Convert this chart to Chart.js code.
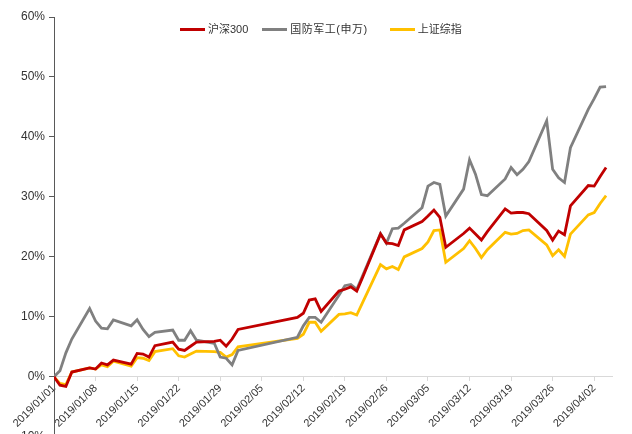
<!DOCTYPE html>
<html>
<head>
<meta charset="utf-8">
<script src="https://cdn.jsdelivr.net/npm/chart.js@4.4.1/dist/chart.umd.min.js"></script>
<style>
  html, body { margin: 0; padding: 0; background: #fff; overflow: hidden; }
  #wrap { position: relative; width: 632px; height: 448px; }
  #legend { position: absolute; top: 20px; left: 180px; font: 11px "Liberation Sans", Arial, "Noto Sans CJK SC", sans-serif; color: #333; white-space: nowrap; }
  #legend span.item { display: inline-block; margin-right: 14px; }
  #legend span.item:nth-child(2) { margin-right: 22px; letter-spacing: 0.5px; }
  #legend span.sw { display: inline-block; width: 25px; height: 3px; vertical-align: middle; margin-right: 3px; position: relative; top: -1px; }
</style>
</head>
<body>
<div id="wrap">
  <canvas id="myChart"></canvas>
  <div id="legend"></div>
</div>
<script>
// trading days (2019/01/01 is the base point)
var dates = ['2019/01/01','2019/01/02','2019/01/03','2019/01/04','2019/01/07','2019/01/08','2019/01/09','2019/01/10','2019/01/11',
  '2019/01/14','2019/01/15','2019/01/16','2019/01/17','2019/01/18','2019/01/21','2019/01/22','2019/01/23','2019/01/24','2019/01/25',
  '2019/01/28','2019/01/29','2019/01/30','2019/01/31','2019/02/01','2019/02/11','2019/02/12','2019/02/13','2019/02/14','2019/02/15',
  '2019/02/18','2019/02/19','2019/02/20','2019/02/21','2019/02/22','2019/02/25','2019/02/26','2019/02/27','2019/02/28','2019/03/01',
  '2019/03/04','2019/03/05','2019/03/06','2019/03/07','2019/03/08','2019/03/11','2019/03/12','2019/03/13','2019/03/14','2019/03/15',
  '2019/03/18','2019/03/19','2019/03/20','2019/03/21','2019/03/22','2019/03/25','2019/03/26','2019/03/27','2019/03/28','2019/03/29',
  '2019/04/01','2019/04/02','2019/04/03','2019/04/04'];

// cumulative return, %
var hs300 = [0,-1.4,-1.6,0.8,1.5,1.3,2.3,2.0,2.8,
  2.1,3.9,3.8,3.3,5.2,5.8,4.6,4.4,5.1,5.8,
  5.9,6.1,5.1,6.3,7.9,9.9,10.6,12.8,13.0,10.9,
  14.3,14.6,15.0,14.3,16.6,23.8,22.3,22.2,21.9,24.5,
  25.9,26.8,27.8,26.6,21.6,23.9,24.8,23.8,22.8,24.2,
  28.0,27.3,27.4,27.4,27.2,24.4,22.8,24.3,23.7,28.5,
  31.9,31.8,33.4,34.9];

var defense = [0,1.0,4.0,6.3,11.4,9.3,8.1,8.0,9.5,
  8.5,9.5,7.9,6.7,7.4,7.8,6.1,6.1,7.7,6.1,
  5.6,3.3,3.1,2.0,4.4,6.6,8.5,9.9,9.9,9.1,
  13.6,15.2,15.4,14.6,16.9,23.9,22.3,24.7,24.8,25.6,
  28.2,31.8,32.4,32.1,26.8,31.3,36.2,33.8,30.4,30.2,
  33.0,34.9,33.7,34.6,35.9,42.7,34.6,33.2,32.4,38.2,
  44.6,46.4,48.3,48.4];

var shanghai = [0,-1.1,-1.3,0.8,1.5,1.3,2.0,1.7,2.6,
  1.8,3.2,3.1,2.7,4.2,4.7,3.5,3.3,3.8,4.3,
  4.2,4.1,3.3,3.7,5.0,6.4,7.1,9.1,9.1,7.6,
  10.4,10.5,10.7,10.3,12.4,18.7,18.0,18.4,17.9,20.0,
  21.4,22.5,24.4,24.5,19.1,21.4,22.7,21.4,19.9,21.2,
  24.1,23.8,23.9,24.4,24.5,22.0,20.2,21.2,20.1,23.8,
  27.0,27.4,28.9,30.2];

var seriesNames = ['沪深300', '国防军工(申万)', '上证综指'];
var seriesColors = ['#C00000', '#808080', '#FFC000'];

var tickLabels = ['2019/01/01','2019/01/08','2019/01/15','2019/01/22','2019/01/29','2019/02/05','2019/02/12',
  '2019/02/19','2019/02/26','2019/03/05','2019/03/12','2019/03/19','2019/03/26','2019/04/02'];
var axisEnd = '2019/04/05';

function dayOf(s) {
  var p = s.split('/');
  return (Date.UTC(+p[0], +p[1] - 1, +p[2]) - Date.UTC(2019, 0, 1)) / 86400000;
}

function toPoints(values) {
  return dates.map(function (d, i) { return { x: dayOf(d), y: values[i] }; });
}

var allSeries = [hs300, defense, shanghai];
var datasets = allSeries.map(function (vals, i) {
  return {
    label: seriesNames[i],
    data: toPoints(vals),
    borderColor: seriesColors[i],
    backgroundColor: seriesColors[i],
    borderWidth: 2.8,
    pointRadius: 0,
    tension: 0,
    fill: false
  };
});

// legend as html
var legend = document.getElementById('legend');
seriesNames.forEach(function (name, i) {
  var item = document.createElement('span');
  item.className = 'item';
  var sw = document.createElement('span');
  sw.className = 'sw';
  sw.style.background = seriesColors[i];
  item.appendChild(sw);
  item.appendChild(document.createTextNode(name));
  legend.appendChild(item);
});

var font = '"Liberation Sans", Arial, sans-serif';
var ctx = document.getElementById('myChart').getContext('2d');
var chart = new Chart(ctx, {
  type: 'line',
  data: { datasets: datasets },
  options: {
    responsive: true,
    maintainAspectRatio: false,
    animation: false,
    layout: { padding: { left: 13, right: 20, top: 17, bottom: 2 } },
    plugins: { legend: { display: false }, tooltip: { enabled: false } },
    scales: {
      x: {
        type: 'linear',
        position: { y: 0 },
        min: 0,
        max: dayOf(axisEnd),
        afterBuildTicks: function (axis) {
          axis.ticks = tickLabels.map(function (t) { return { value: dayOf(t) }; });
        },
        border: { color: '#d9d9d9', width: 1 },
        grid: { drawOnChartArea: false, drawTicks: true, tickLength: 4, color: '#d9d9d9' },
        ticks: {
          autoSkip: false,
          minRotation: 45,
          maxRotation: 45,
          padding: 1,
          color: '#333',
          font: { family: font, size: 11 },
          callback: function (v) {
            for (var i = 0; i < tickLabels.length; i++) {
              if (dayOf(tickLabels[i]) === v) return tickLabels[i];
            }
            return '';
          }
        }
      },
      y: {
        min: -10,
        max: 60,
        border: { color: '#595959', width: 1 },
        grid: { drawOnChartArea: false, drawTicks: true, tickLength: 5, color: '#595959' },
        ticks: {
          stepSize: 10,
          padding: 4,
          color: '#333',
          font: { family: font, size: 12 },
          callback: function (v) { return v + '%'; }
        }
      }
    }
  }
});
</script>
</body>
</html>
